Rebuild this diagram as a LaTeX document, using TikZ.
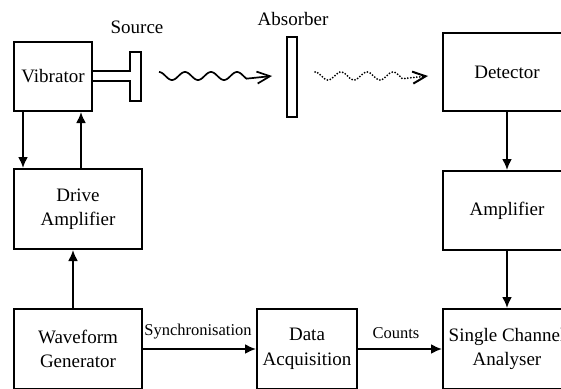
\documentclass[tikz,border=0pt]{standalone}
\usepackage{fontspec}
\setmainfont{Liberation Serif}
\usetikzlibrary{arrows.meta}
\begin{document}
\begin{tikzpicture}[x=1pt,y=-1pt,
 box/.style={draw, line width=2pt, inner sep=0pt, align=center, font=\rmfamily\fontsize{19}{24.5}\selectfont},
 conn/.style={line width=2pt, -{Latex[length=11pt,width=10pt]}},
 lbl/.style={font=\rmfamily\fontsize{16.5}{20}\selectfont, inner sep=0pt},
 ttl/.style={font=\rmfamily\fontsize{19}{24}\selectfont, inner sep=0pt},
 wave/.style={line width=1.7pt, -{Straight Barb[length=13pt,width=12pt]}}]
\clip (0,0) rectangle (561,388);
\fill[white] (0,0) rectangle (561,388);
% boxes
\node[box, minimum width=78pt, minimum height=69pt] (vib) at (53,76.5) {Vibrator};
\node[box, minimum width=128pt, minimum height=80pt] (da) at (78,209) {Drive\\Amplifier};
\node[box, minimum width=128pt, minimum height=80pt] (wg) at (78,349) {Waveform\\Generator};
\node[box, minimum width=100pt, minimum height=80pt] (daq) at (307,349) {Data\\Acquisition};
\node[box, minimum width=128pt, minimum height=80pt] (sca) at (507,349) {Single Channel\\Analyser};
\node[box, minimum width=128pt, minimum height=79pt] (amp) at (507,210.5) {Amplifier};
\node[box, minimum width=128pt, minimum height=78pt] (det) at (507,72) {Detector};
% source and absorber
\draw[line width=2pt] (vib.east |- 0,71) -- (130,71) -- (130,52) -- (141,52) -- (141,101) -- (130,101) -- (130,81) -- (vib.east |- 0,81);
\node[draw, line width=1.8pt, minimum width=10pt, minimum height=80pt, inner sep=0pt] (abs) at (292,77) {};
\node[ttl] (srclbl) at (137,27) {Source};
\node[ttl] (abslbl) at (293,19) {Absorber};
% waves
\coordinate (w1s) at (159,76);
\coordinate (w1e) at (272,76);
\coordinate (w2s) at (315,76);
\coordinate (w2e) at (428,76);
\draw[wave] plot[domain=0:87.5, samples=120] ([xshift=\x pt, yshift={4*cos(\x/26*360)}]w1s) -- (w1e);
\draw[wave, dash pattern=on 0pt off 3pt, line cap=round, line width=2pt] plot[domain=0:87.5, samples=120] ([xshift=\x pt, yshift={4*cos(\x/26*360)}]w2s) -- (w2e);
% connectors
\draw[conn] ([xshift=10pt]vib.south west) -- ([xshift=10pt]da.north west);
\draw[conn] ([xshift=68pt]da.north west) -- ([xshift=68pt]vib.south west);
\draw[conn] ([xshift=-5pt]wg.north) -- ([xshift=-5pt]da.south);
\draw[conn] (det) -- (amp);
\draw[conn] (amp) -- (sca);
\draw[conn] (wg) -- (daq);
\draw[conn] (daq) -- (sca);
\node[lbl] (synclbl) at (198,332) {Synchronisation};
\node[lbl] (cntlbl) at (396,333) {Counts};
\end{tikzpicture}
\end{document}
